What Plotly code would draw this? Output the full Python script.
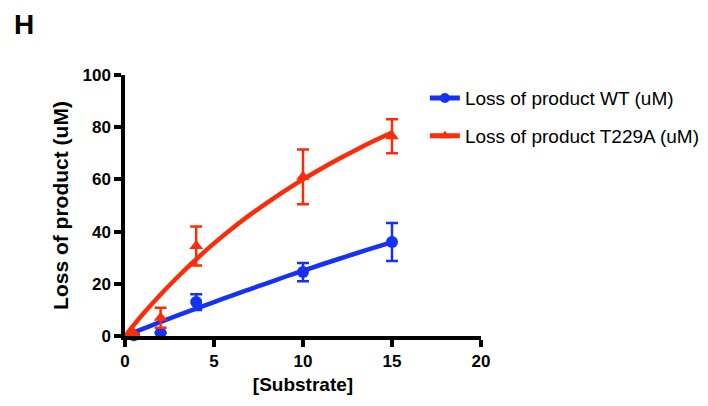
import plotly.graph_objects as go

# measured points
substrate = [0.5, 2, 4, 10, 15]
wt_mean = [0.3, 1.2, 13.0, 24.5, 36.0]
wt_err = [0.0, 0.0, 3.0, 3.5, 7.3]
t229a_mean = [1.0, 7.0, 34.5, 61.0, 76.5]
t229a_err = [0.0, 3.8, 7.5, 10.5, 6.5]

# fitted curves
fit_x = [0, 1, 2, 3, 4, 5, 6, 7, 8, 9, 10, 11, 12, 13, 14, 15]
wt_fit = [0, 2.7, 5.4, 8.0, 10.5, 13.0, 15.5, 17.9, 20.3, 22.7, 25.0, 27.3, 29.5, 31.7, 33.9, 36.0]
t229a_fit = [0, 8.3, 15.9, 22.9, 29.4, 35.5, 41.1, 46.3, 51.1, 55.7, 60.0, 64.0, 67.8, 71.4, 74.8, 78.0]

x_ticks = [0, 5, 10, 15, 20]
y_ticks = [0, 20, 40, 60, 80, 100]

BLUE = "#1431f5"
RED = "#fa2d0a"
FONT = "Liberation Sans, Arial, sans-serif"

fig = go.Figure()

for name, mean, err, fit, color, sym in [
    ("Loss of product WT (uM)", wt_mean, wt_err, wt_fit, BLUE, "circle"),
    ("Loss of product T229A (uM)", t229a_mean, t229a_err, t229a_fit, RED, "triangle-up"),
]:
    fig.add_trace(go.Scatter(x=fit_x, y=fit, mode="lines",
                             line=dict(color=color, width=4.5, shape="spline", smoothing=1),
                             showlegend=False, cliponaxis=False, hoverinfo="skip"))
    fig.add_trace(go.Scatter(x=substrate, y=mean, mode="markers",
                             marker=dict(color=color, size=12, symbol=sym),
                             error_y=dict(type="data", array=err, visible=True,
                                          color=color, thickness=2.5, width=6),
                             showlegend=False, cliponaxis=False))
    fig.add_trace(go.Scatter(x=[None], y=[None], mode="lines+markers", name=name,
                             line=dict(color=color, width=5),
                             marker=dict(color=color, size=10, symbol=sym),
                             legendgroup=name))

axis_common = dict(
    showline=True, linecolor="black", linewidth=3.5,
    ticks="outside", ticklen=7, tickwidth=3.5, tickcolor="black",
    showgrid=False, zeroline=False,
    tickfont=dict(family=FONT, size=17, color="black", weight="bold"),
)

fig.update_xaxes(range=[0, 20], tickvals=x_ticks,
                 title=dict(text="[Substrate]", standoff=9,
                            font=dict(family=FONT, size=19, color="black", weight="bold")),
                 **axis_common)
fig.update_yaxes(range=[0, 100], tickvals=y_ticks,
                 title=dict(text="Loss of product (uM)", standoff=9,
                            font=dict(family=FONT, size=21, color="black", weight="bold")),
                 **axis_common)

fig.add_annotation(text="H", xref="paper", yref="paper", x=-0.318, y=1.26,
                   xanchor="left", yanchor="top", showarrow=False,
                   font=dict(family=FONT, size=28, color="black", weight="bold"))

fig.update_layout(
    width=708, height=406,
    margin=dict(l=117, r=234, t=67, b=78),
    paper_bgcolor="white", plot_bgcolor="white",
    font=dict(family=FONT, color="black"),
    showlegend=True,
    legend=dict(x=0.84, y=0.984, xanchor="left", yanchor="top",
                font=dict(family=FONT, size=19, color="black"),
                itemwidth=30,
                tracegroupgap=10, traceorder="grouped",
                bgcolor="rgba(0,0,0,0)"),
)

fig.write_html("out.html")
